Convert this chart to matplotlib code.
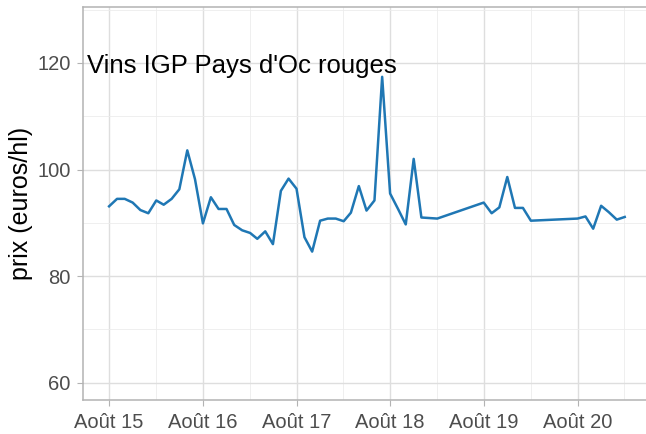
import numpy as np
import matplotlib
matplotlib.use("Agg")
import matplotlib.pyplot as plt
import matplotlib.dates as mdates
import matplotlib.transforms as mtransforms
import pandas as pd

plt.rcParams['font.family'] = ['Liberation Sans', 'DejaVu Sans']

# prix mensuels (euros/hl)
mois = ['2015-08', '2015-09', '2015-10', '2015-11', '2015-12', '2016-01',
        '2016-02', '2016-03', '2016-04', '2016-05', '2016-06', '2016-07',
        '2016-08', '2016-09', '2016-10', '2016-11', '2016-12', '2017-01',
        '2017-02', '2017-03', '2017-04', '2017-05', '2017-06', '2017-07',
        '2017-08', '2017-09', '2017-10', '2017-11', '2017-12', '2018-01',
        '2018-02', '2018-03', '2018-04', '2018-05', '2018-06', '2018-07',
        '2018-08', '2018-09', '2018-10', '2018-11', '2018-12', '2019-01',
        '2019-02',
        '2019-08', '2019-09', '2019-10', '2019-11', '2019-12', '2020-01',
        '2020-02',
        '2020-08', '2020-09', '2020-10', '2020-11', '2020-12', '2021-01',
        '2021-02']
prix = [93.1, 94.5, 94.5, 93.8, 92.4, 91.8,
        94.2, 93.4, 94.5, 96.3, 103.6, 98.2,
        89.9, 94.8, 92.6, 92.6, 89.6, 88.6,
        88.1, 87.0, 88.4, 86.0, 96.0, 98.3,
        96.4, 87.3, 84.6, 90.4, 90.8, 90.8,
        90.3, 91.9, 96.9, 92.3, 94.2, 117.4,
        95.5, 92.6, 89.7, 102.0, 91.0, 90.9,
        90.8,
        93.8, 91.8, 92.9, 98.6, 92.8, 92.8,
        90.4,
        90.8, 91.2, 88.9, 93.2, 92.0, 90.6,
        91.1]
ticks_dates = ['2015-08-01', '2016-08-01', '2017-08-01', '2018-08-01',
               '2019-08-01', '2020-08-01']
ticks_labels = ['Août 15', 'Août 16', 'Août 17', 'Août 18', 'Août 19', 'Août 20']

dates = pd.to_datetime(mois)

fig = plt.figure(figsize=(6.46, 4.34), dpi=100)
ax = fig.add_axes([83.3/646, 1-400/434, (650.5-83.3)/646, (400-6.5)/434])

ax.plot(dates, prix, color='#1f77b4', lw=1.8, zorder=3)

ax.margins(x=0.05)
ax.set_ylim(56.75, 130.6)

tk = mdates.date2num(pd.to_datetime(ticks_dates))
ax.set_xticks(tk)
ax.set_xticklabels(ticks_labels)
mn = list((tk[:-1] + tk[1:]) / 2) + [tk[-1] + (tk[-1] - tk[-2]) / 2]
ax.set_xticks(mn, minor=True)
ax.set_yticks([60, 80, 100, 120])
ax.set_yticks([70, 90, 110, 130], minor=True)

ax.grid(which='major', color='#dedede', lw=1.0)
ax.grid(which='minor', color='#ececec', lw=0.6)
ax.set_axisbelow(True)

for s in ax.spines.values():
    s.set_color('#b3b3b3')
    s.set_linewidth(1.1)

ax.tick_params(which='major', length=4.3, width=0.8, color='#b3b3b3',
               labelcolor='#4d4d4d', labelsize=14.5)
ax.tick_params(axis='x', which='major', pad=5)
ax.tick_params(axis='y', which='major', pad=5)
ax.tick_params(which='minor', length=0)

ax.set_ylabel('prix (euros/hl)', fontsize=18, color='black', labelpad=3)

trans = mtransforms.blended_transform_factory(ax.transAxes, ax.transData)
ax.text(0.007, 118.1, "Vins IGP Pays d'Oc rouges", transform=trans,
        ha='left', va='baseline', fontsize=18.5, color='black')

fig.savefig('out.png', dpi=100)
